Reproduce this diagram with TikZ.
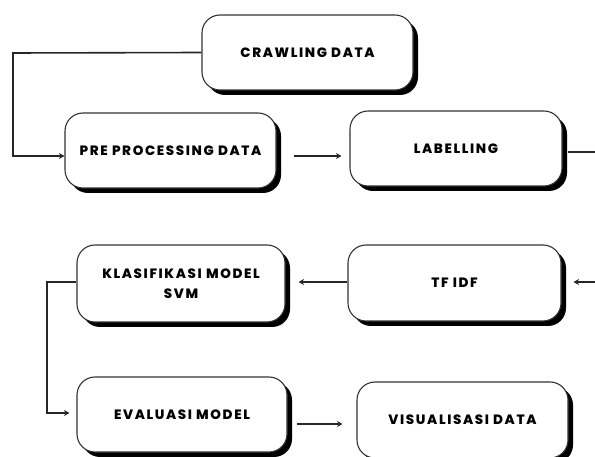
\documentclass[tikz,border=0pt]{standalone}
\usepackage{fontspec}
\setmainfont{Poppins}[BoldFont={Poppins ExtraBold}]
\usetikzlibrary{shadows,arrows.meta,calc}
\begin{document}
\begin{tikzpicture}[x=1pt,y=-1pt,
  stepbox/.style={draw=black!80, line width=1.1pt, fill=white, rounded corners=18pt,
    drop shadow={shadow xshift=5pt, shadow yshift=-5pt, fill=black, opacity=1},
    align=center, inner sep=0pt, font=\fontsize{13.5}{20}\selectfont\bfseries\addfontfeatures{LetterSpace=12}},
  conn/.style={line width=1.6pt, black!85},
  arr/.style={conn, -{Stealth[length=5.5pt,width=6pt]}}]
\useasboundingbox (0,0) rectangle (595,457);
\node[stepbox, minimum width=211pt, minimum height=75pt] (crawl) at (307.5,52.5) {CRAWLING DATA};
\node[stepbox, minimum width=211pt, minimum height=75pt] (pre) at (170.5,150.5) {\raisebox{-4pt}{PRE PROCESSING DATA}};
\node[stepbox, minimum width=212pt, minimum height=75pt] (lab) at (456,148.5) {LABELLING};
\node[stepbox, minimum width=208pt, minimum height=77pt] (klas) at (181,283.5) {KLASIFIKASI MODEL\\SVM};
\node[stepbox, minimum width=213pt, minimum height=76pt] (tfidf) at (454.5,283) {TF IDF};
\node[stepbox, minimum width=210pt, minimum height=75pt] (eval) at (182,414.5) {\raisebox{-3pt}{EVALUASI MODEL}};
\node[stepbox, minimum width=211pt, minimum height=76pt] (vis) at (462.5,420) {VISUALISASI DATA};

\coordinate (c1) at (13,53);
\coordinate (labout) at (595,152);
\coordinate (tfin) at (595,282);
\coordinate (c2) at (47,282);

\draw[arr] (crawl.west) -- (c1) |- ($(pre.west)+(0,5.5)$);
\draw[arr] ($(pre.east)+(17,5.5)$) -- ($(lab.west)+(-8,7.5)$);
\draw[conn] ($(lab.east)+(5,3.5)$) -- (labout);
\draw[arr] (tfin) -- ($(tfidf.east)+(12,-1)$);
\draw[arr] ($(tfidf.west)+(0,-1)$) -- ($(klas.east)+(13,-1.5)$);
\draw[arr] ($(klas.west)+(0,-1.5)$) -- (c2) |- ($(eval.west)+(-7,-1.5)$);
\draw[arr] ($(eval.east)+(9,9.5)$) -- ($(vis.west)+(-14,4)$);
\end{tikzpicture}
\end{document}
